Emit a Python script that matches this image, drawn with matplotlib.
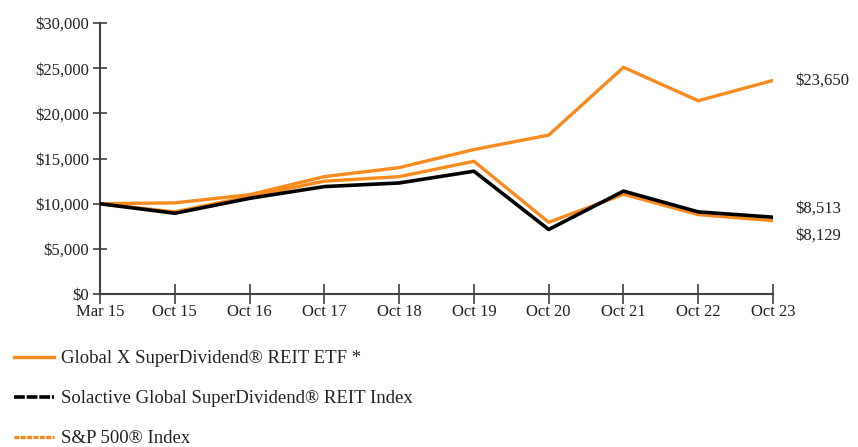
import matplotlib
matplotlib.use("Agg")
import matplotlib.pyplot as plt
from matplotlib.lines import Line2D
from matplotlib.ticker import FuncFormatter

categories = ["Mar 15", "Oct 15", "Oct 16", "Oct 17", "Oct 18", "Oct 19", "Oct 20", "Oct 21", "Oct 22", "Oct 23"]
etf = [10000, 9100, 10800, 12500, 13000, 14700, 7950, 11050, 8800, 8129]
solactive = [10000, 8950, 10600, 11900, 12300, 13600, 7150, 11400, 9100, 8513]
sp500 = [10000, 10100, 11000, 13000, 14000, 16000, 17600, 25100, 21400, 23650]
labels = ["Global X SuperDividend\u00ae REIT ETF *", "Solactive Global SuperDividend\u00ae REIT Index", "S&P 500\u00ae Index"]
end_labels = ["$8,129", "$8,513", "$23,650"]
yticks = [0, 5000, 10000, 15000, 20000, 25000, 30000]

plt.rcParams['font.family'] = ['Liberation Serif', 'DejaVu Serif']
orange = "#F98A1E"
txt = "#222222"

fig = plt.figure(figsize=(8.58, 4.47), dpi=100)
ax = fig.add_axes([0.1166, 0.342, 0.9010 - 0.1166, 0.9485 - 0.342])

x = list(range(len(categories)))
l3, = ax.plot(x, sp500, color=orange, lw=2.4, zorder=2)
l1, = ax.plot(x, etf, color=orange, lw=2.4, zorder=3)
l2, = ax.plot(x, solactive, color="black", lw=2.6, zorder=4)

ax.set_xlim(0, len(categories) - 1)
ax.set_ylim(0, 30000)
ax.set_xticks(x)
ax.set_xticklabels(categories)
ax.set_yticks(yticks)
ax.yaxis.set_major_formatter(FuncFormatter(lambda v, p: "${:,.0f}".format(v)))
for s in ["top", "right"]:
    ax.spines[s].set_visible(False)
for s in ["left", "bottom"]:
    ax.spines[s].set_color("#404040")
    ax.spines[s].set_linewidth(1.5)
ax.tick_params(axis="y", direction="inout", length=10, width=1.2, color="#404040", labelsize=12, pad=3, labelcolor=txt)
ax.tick_params(axis="x", direction="inout", length=14, width=1.2, color="#404040", labelsize=12, pad=0, labelcolor=txt)

ax.annotate(end_labels[2], xy=(x[-1], sp500[-1]), xytext=(16, 0), textcoords="offset points",
            va="center", ha="left", fontsize=12, color=txt, annotation_clip=False)
ax.annotate(end_labels[1], xy=(x[-1], solactive[-1]), xytext=(16, 6), textcoords="offset points",
            va="center", ha="left", fontsize=12, color=txt, annotation_clip=False)
ax.annotate(end_labels[0], xy=(x[-1], etf[-1]), xytext=(16, -11), textcoords="offset points",
            va="center", ha="left", fontsize=12, color=txt, annotation_clip=False)

handles = [Line2D([], [], color=orange, lw=2.4),
           Line2D([], [], color="black", lw=2.6, linestyle=(0, (3, 0.5))),
           Line2D([], [], color=orange, lw=2.4, linestyle=(0, (1.5, 0.4)))]
fig.legend(handles, labels, loc="upper left", bbox_to_anchor=(0.008, 0.233), frameon=False,
           fontsize=13.5, labelspacing=1.22, handlelength=2.1, handletextpad=0.4, borderaxespad=0,
           labelcolor=txt)

fig.savefig("out.png", dpi=100)
